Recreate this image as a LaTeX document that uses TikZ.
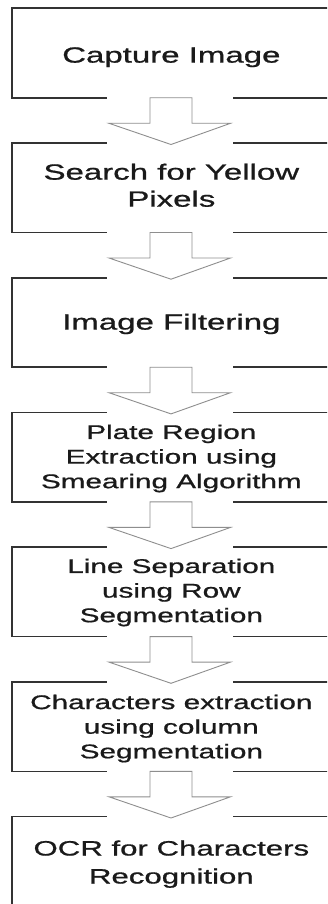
\documentclass[tikz,border=0pt]{standalone}
\usepackage{fontspec}
\setmainfont{Liberation Sans}[FakeBold=0.7]
\usepackage{graphicx}
\usetikzlibrary{calc}
\definecolor{boxline}{HTML}{333333}
\definecolor{arrline}{HTML}{8E8E8E}
\definecolor{txt}{HTML}{1A1A1A}
\newcommand{\bigtxt}[1]{\scalebox{1.5}[1]{\fontsize{22}{27}\selectfont\begin{tabular}{@{}c@{}}#1\end{tabular}}}
\newcommand{\smalltxt}[1]{\scalebox{1.5}[1]{\fontsize{19.8}{24.6}\selectfont\begin{tabular}{@{}c@{}}#1\end{tabular}}}
\newcommand{\midtxt}[1]{\scalebox{1.5}[1]{\fontsize{20.8}{28}\selectfont\begin{tabular}{@{}c@{}}#1\end{tabular}}}
\newcommand{\blockarrow}[2]{%
  \fill[white] ($(#1.south)+(-64.6,1.4)$) rectangle ($(#2.north)+(61.6,-1.4)$);
  \draw[blk] ($(#1.south)+(-21.35,0)$) -- ($(#1.south)+(20.65,0)$)
     -- ($(#1.south)+(20.65,-25.5)$) -- ($(#1.south)+(59.15,-25.5)$)
     -- ($(#2.north)+(-0.35,-1.5)$) -- ($(#1.south)+(-62.35,-25.5)$)
     -- ($(#1.south)+(-21.35,-25.5)$) -- cycle;}
\begin{document}
\begin{tikzpicture}[x=1pt,y=1pt,
  box/.style={draw=boxline,line width=1.6pt,minimum width=319.3pt,minimum height=89.5pt,
              inner sep=0pt,outer sep=0pt,anchor=north west},
  lbl/.style={inner sep=0pt,outer sep=0pt,text=txt},
  blk/.style={draw=arrline,fill=white,line width=0.9pt,line join=miter}]
\useasboundingbox (0,0) rectangle (327,-904);
\clip (0,0) rectangle (327,-904);
\fill[white] (0,0) rectangle (327,-904);
% boxes
\node[box] (b1) at (11.7,-8.3) {};
\node[box] (b2) at (11.7,-143.0) {};
\node[box] (b3) at (11.7,-277.7) {};
\node[box] (b4) at (11.7,-412.4) {};
\node[box] (b5) at (11.7,-547.1) {};
\node[box] (b6) at (11.7,-681.8) {};
\node[box] (b7) at (11.7,-816.5) {};
% texts
\node[lbl] (t1) at ([yshift=-4.15pt]b1.center) {\bigtxt{Capture Image}};
\node[lbl] (t2) at ([yshift=0pt]b2.center) {\bigtxt{Search for Yellow\\Pixels}};
\node[lbl] (t3) at ([yshift=-1.75pt]b3.center) {\bigtxt{Image Filtering}};
\node[lbl] (t4) at ([yshift=-1.5pt]b4.center) {\smalltxt{Plate Region\\Extraction using\\Smearing Algorithm}};
\node[lbl] (t5) at ([yshift=-0.8pt]b5.center) {\smalltxt{Line Separation\\using Row\\Segmentation}};
\node[lbl] (t6) at ([yshift=-2.2pt]b6.center) {\smalltxt{Characters extraction\\using column\\Segmentation}};
\node[lbl] (t7) at ([yshift=-2.65pt]b7.center) {\midtxt{OCR for Characters\\Recognition}};
% block arrows
\blockarrow{b1}{b2}
\blockarrow{b2}{b3}
\blockarrow{b3}{b4}
\blockarrow{b4}{b5}
\blockarrow{b5}{b6}
\blockarrow{b6}{b7}
\end{tikzpicture}
\end{document}
